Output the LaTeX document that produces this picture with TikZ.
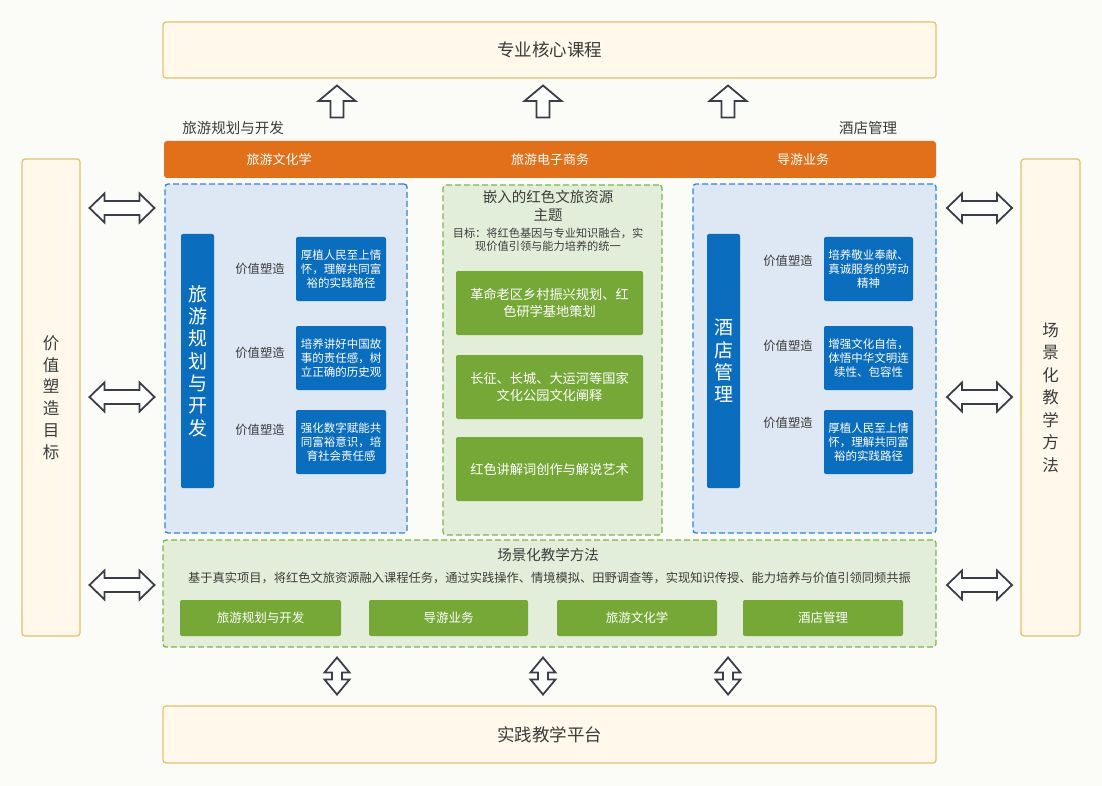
\documentclass[tikz,border=0pt]{standalone}
\usepackage{fontspec}
\setmainfont{Noto Sans CJK SC}
\usepackage{tikz}
\usetikzlibrary{positioning}

\definecolor{bgpaper}{HTML}{FBFBF7}
\definecolor{creamfill}{HTML}{FFF8EB}
\definecolor{creamline}{HTML}{E3C16C}
\definecolor{bandorange}{HTML}{E2701A}
\definecolor{paleblue}{HTML}{DEE8F4}
\definecolor{dashblue}{HTML}{2D87D2}
\definecolor{deepblue}{HTML}{0B6DBE}
\definecolor{palegreen}{HTML}{E2EEDA}
\definecolor{dashgreen}{HTML}{7DB649}
\definecolor{leafgreen}{HTML}{76A838}
\definecolor{inkgrey}{HTML}{3C3C3C}
\definecolor{arrowgrey}{HTML}{3A3F47}

\tikzset{
  cream/.style={draw=creamline, fill=creamfill, line width=1.2pt, rounded corners=3pt,
    text=inkgrey, inner sep=0pt},
  bluezone/.style={draw=dashblue, fill=paleblue, line width=1.3pt, rounded corners=3pt,
    dash pattern=on 6pt off 3pt, inner sep=0pt},
  greenzone/.style={draw=dashgreen, fill=palegreen, line width=1.3pt, rounded corners=3pt,
    dash pattern=on 6pt off 3pt, inner sep=0pt},
  bluebar/.style={fill=deepblue, rounded corners=2pt, text=white, align=center, inner sep=0pt,
    minimum width=33pt, minimum height=254pt, font=\fontsize{19}{22.3}\selectfont},
  valuebox/.style={fill=deepblue, rounded corners=2pt, text=white, align=center, inner sep=0pt,
    minimum width=90pt, minimum height=64pt, font=\fontsize{11.5}{14}\selectfont},
  themebox/.style={fill=leafgreen, rounded corners=2pt, text=white, align=center, inner sep=0pt,
    minimum width=187pt, minimum height=64pt, font=\fontsize{13.2}{16.7}\selectfont},
  scenebox/.style={fill=leafgreen, rounded corners=2pt, text=white, inner sep=0pt,
    minimum height=36pt, font=\fontsize{12.5}{14}\selectfont},
  graylabel/.style={text=inkgrey, inner sep=0pt, font=\fontsize{12.3}{14}\selectfont},
  arrowline/.style={draw=arrowgrey, fill=white, line width=1.8pt, line join=miter},
  pics/dblarrow/.style args={#1/#2/#3/#4}{code={
    \draw[arrowline] (-#1,0) -- (-#1+#4,#2) -- (-#1+#4,#3) -- (#1-#4,#3) -- (#1-#4,#2)
      -- (#1,0) -- (#1-#4,-#2) -- (#1-#4,-#3) -- (-#1+#4,-#3) -- (-#1+#4,-#2) -- cycle;}},
  pics/uparrow/.style={code={
    \draw[arrowline] (0,-16) -- (18.5,-0.5) -- (6.5,-0.5) -- (6.5,16) -- (-6.5,16)
      -- (-6.5,-0.5) -- (-18.5,-0.5) -- cycle;}},
}

\begin{document}
\begin{tikzpicture}[x=1pt, y=-1pt]
  \useasboundingbox[fill=bgpaper] (0,0) rectangle (1102,786);

  % outer frame
  \node[cream, minimum width=773pt, minimum height=56pt, font=\fontsize{17.5}{20}\selectfont]
    (core) at (549.5,50) {专业核心课程};
  \node[cream, minimum width=773pt, minimum height=57pt, font=\fontsize{17.5}{20}\selectfont]
    (platform) at (549.5,734.5) {实践教学平台};
  \node[cream, minimum width=58pt, minimum height=477pt, align=center,
    font=\fontsize{16.5}{21.7}\selectfont]
    (goal) at (51,397.5) {价\\值\\塑\\造\\目\\标};
  \node[cream, minimum width=59pt, minimum height=477pt, align=center,
    font=\fontsize{16.5}{22.5}\selectfont]
    (method) at (1050.5,397.5) {场\\景\\化\\教\\学\\方\\法};

  \node[graylabel, font=\fontsize{14.5}{16}\selectfont] (plan) at (233,128) {旅游规划与开发};
  \node[graylabel, font=\fontsize{14.5}{16}\selectfont] (hotel) at (868,128) {酒店管理};

  % orange band
  \node[fill=bandorange, rounded corners=3pt, minimum width=772pt, minimum height=37pt,
    inner sep=0pt] (band) at (550,159.5) {};
  \node[text=white, font=\fontsize{13}{14}\selectfont] (culture) at (279,159.5) {旅游文化学};
  \node[text=white, font=\fontsize{13}{14}\selectfont] (ecom) at (550,159.5) {旅游电子商务};
  \node[text=white, font=\fontsize{13}{14}\selectfont] (guide) at (803,159.5) {导游业务};

  % three columns
  \node[bluezone, minimum width=242pt, minimum height=349pt] (lbox) at (286,358.5) {};
  \node[greenzone, minimum width=219pt, minimum height=350pt] (mbox) at (552.5,360) {};
  \node[bluezone, minimum width=243pt, minimum height=349pt] (rbox) at (814.5,358.5) {};

  \node[bluebar] (lbar) at (197.5,361) {旅\\游\\规\\划\\与\\开\\发};
  \node[valuebox] (lv1) at (341,269) {厚植人民至上情\\怀，理解共同富\\裕的实践路径};
  \node[valuebox] (lv2) at (341,358) {培养讲好中国故\\事的责任感，树\\立正确的历史观};
  \node[valuebox] (lv3) at (341,442) {强化数字赋能共\\同富裕意识，培\\育社会责任感};
  \node[graylabel, left=11pt of lv1.west] (ll1) {价值塑造};
  \node[graylabel, left=11pt of lv2.west, yshift=5pt] (ll2) {价值塑造};
  \node[graylabel, left=11pt of lv3.west, yshift=12pt] (ll3) {价值塑造};

  \node[text=inkgrey, align=center, inner sep=0pt, font=\fontsize{14.5}{18.3}\selectfont]
    (mtitle) at (548,206) {嵌入的红色文旅资源\\主题};
  \node[text=inkgrey, align=center, inner sep=0pt, font=\fontsize{11.2}{13.3}\selectfont]
    (mgoal) at (548,239.5) {目标：将红色基因与专业知识融合，实\\现价值引领与能力培养的统一};
  \node[themebox] (mg1) at (549.5,303) {革命老区乡村振兴规划、红\\色研学基地策划};
  \node[themebox] (mg2) at (549.5,387) {长征、长城、大运河等国家\\文化公园文化阐释};
  \node[themebox] (mg3) at (549.5,469) {红色讲解词创作与解说艺术};

  \node[bluebar] (rbar) at (723.5,361) {酒\\店\\管\\理};
  \node[valuebox, minimum width=89pt] (rv1) at (868.5,269) {培养敬业奉献、\\真诚服务的劳动\\精神};
  \node[valuebox, minimum width=89pt] (rv2) at (868.5,358) {增强文化自信，\\体悟中华文明连\\续性、包容性};
  \node[valuebox, minimum width=89pt] (rv3) at (868.5,442) {厚植人民至上情\\怀，理解共同富\\裕的实践路径};
  \node[graylabel, left=11pt of rv1.west, yshift=8pt] (rl1) {价值塑造};
  \node[graylabel, left=11pt of rv2.west, yshift=12pt] (rl2) {价值塑造};
  \node[graylabel, left=11pt of rv3.west, yshift=19pt] (rl3) {价值塑造};

  % scene teaching
  \node[greenzone, minimum width=773pt, minimum height=107pt] (scene) at (549.5,593.5) {};
  \node[text=inkgrey, inner sep=0pt, font=\fontsize{14.5}{16}\selectfont]
    (stitle) at (548,555) {场景化教学方法};
  \node[text=inkgrey, inner sep=0pt, font=\fontsize{12.25}{14}\selectfont] (sdesc) at (549.5,578)
    {基于真实项目，将红色文旅资源融入课程任务，通过实践操作、情境模拟、田野调查等，实现知识传授、能力培养与价值引领同频共振};
  \node[scenebox, minimum width=161pt] (sg1) at (260.5,618) {旅游规划与开发};
  \node[scenebox, minimum width=159pt] (sg2) at (448.5,618) {导游业务};
  \node[scenebox, minimum width=160pt] (sg3) at (637,618) {旅游文化学};
  \node[scenebox, minimum width=160pt] (sg4) at (823,618) {酒店管理};

  % block arrows
  \foreach \ax in {337,543,728} {
    \pic at (\ax,101.5) {uparrow};
    \pic[rotate=90] at (\ax,676) {dblarrow=18.5/12.5/5/15};
  }
  \foreach \ay in {208,397,585} {
    \pic at (122,\ay) {dblarrow=32.5/14.5/7/15};
    \pic at (979.5,\ay) {dblarrow=32.5/14.5/7/15};
  }
\end{tikzpicture}
\end{document}
